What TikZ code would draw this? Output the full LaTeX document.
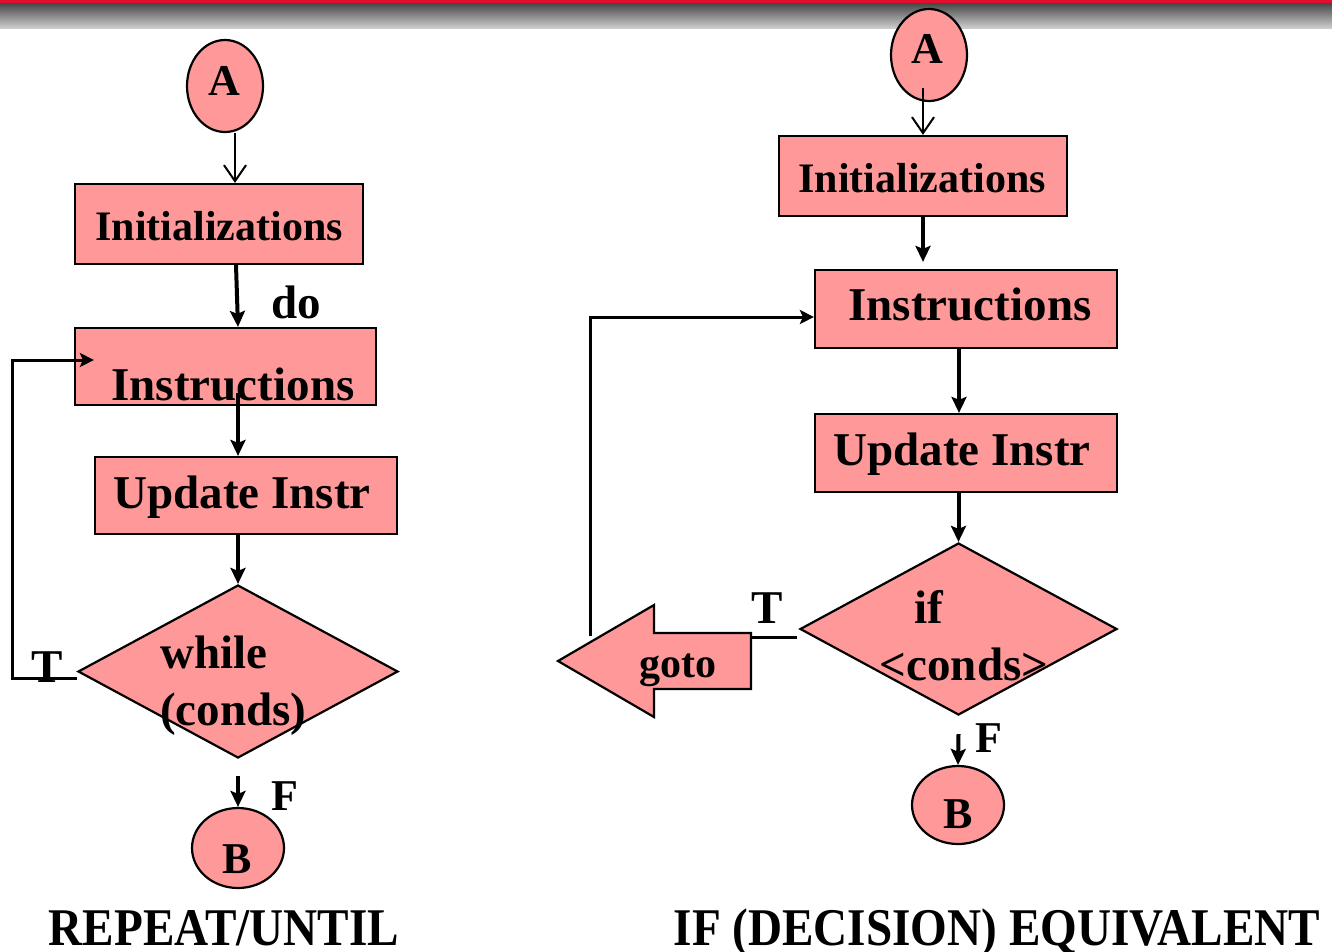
\documentclass[tikz,border=0pt]{standalone}
\usepackage{fontspec}
\setmainfont{Liberation Serif}
\usetikzlibrary{shapes.geometric,arrows.meta,calc}
\definecolor{boxpink}{RGB}{255,153,153}
\definecolor{barred}{RGB}{225,15,45}
\definecolor{bardark}{RGB}{70,70,70}
\definecolor{barlight}{RGB}{205,205,205}
\newcommand\fsz[1]{\fontsize{#1}{#1}\selectfont\bfseries}
\tikzset{
  shapeline/.style={draw=black, line width=2.2pt, fill=boxpink},
  procbox/.style={shapeline, rectangle, inner sep=0pt},
  term/.style={shapeline, ellipse, inner sep=0pt},
  decision/.style={shapeline, diamond, inner sep=0pt},
  lbl/.style={inner sep=0pt, anchor=base},
  thinarr/.style={line width=2pt, -{Straight Barb[length=16pt,width=22pt]}},
  thickarr/.style={line width=4pt, -{Stealth[length=16pt,width=15pt,inset=3pt]}},
  looparr/.style={line width=3pt, -{Stealth[length=14pt,width=14pt,inset=3pt]}},
  plainline/.style={line width=3pt},
}
\begin{document}
\begin{tikzpicture}[x=1pt,y=-1pt]
\useasboundingbox (0,0) rectangle (1332,951);
\fill[white] (0,0) rectangle (1332,951);

% header band
\shade[top color=bardark, bottom color=barlight] (0,3) rectangle (1332,28);
\fill[barred] (0,0) rectangle (1332,3);

% ---------------- REPEAT / UNTIL ----------------
\node[term, minimum width=76pt, minimum height=92pt] (aL) at (225,86) {};
\node[lbl, font=\fsz{44}] (aLt) at (224,95) {A};

\node[procbox, minimum width=288pt, minimum height=80pt] (initL) at (219,224) {};
\node[lbl, font=\fsz{42}] (initLt) at (219,240) {Initializations};

\node[procbox, minimum width=301pt, minimum height=77pt] (insL) at (225.5,366.5) {};
\node[lbl, font=\fsz{47}] (insLt) at (233,400) {Instructions};

\node[procbox, minimum width=302pt, minimum height=77pt] (updL) at (246,495.5) {};
\node[lbl, font=\fsz{47}] (updLt) at (242,508) {Update Instr};

\node[decision, minimum width=320pt, minimum height=173pt] (dL) at (238,671.5) {};
\node[inner sep=0pt, anchor=base west, font=\fsz{47}] (dLt1) at (160,668) {while};
\node[inner sep=0pt, anchor=base west, font=\fsz{47}] (dLt2) at (160,725) {(conds)};

\node[term, minimum width=92pt, minimum height=80pt] (bL) at (238,848) {};
\node[lbl, font=\fsz{44}] (bLt) at (237,873) {B};

\node[lbl, font=\fsz{47}] (doL) at (296,318) {do};
\node[lbl, font=\fsz{47}] (tLt) at (47,682) {T};
\node[lbl, font=\fsz{44}] (fLt) at (285,810) {F};

% connectors
\coordinate (aLout) at ([xshift=10pt]aL.south);
\coordinate (insLout) at ([shift={(12.5,26.5)}]insL.center);
\draw[thinarr] (aLout) -- (aLout |- initL.north);
\draw[thickarr] ([xshift=17pt]initL.south) -- ([xshift=12.5pt]insL.north);
\draw[thickarr] (insLout) -- (insLout |- updL.north);
\draw[thickarr] (dL.north |- updL.south) -- (dL.north);
\draw[thickarr] ([yshift=-17pt]dL.south) -- (bL.north);

\coordinate (tL) at ([shift={(0,7)}]dL.west);
\draw[looparr] (tL) -- ++(-64,0) |- ([shift={(20,-6.5)}]insL.west);

\node[inner sep=0pt, anchor=base, font=\fsz{53}] (titleL) at (224,945) {\scalebox{0.89}[1]{REPEAT/UNTIL}};

% ---------------- IF (DECISION) EQUIVALENT ----------------
\node[term, minimum width=76pt, minimum height=92pt] (aR) at (929,55) {};
\node[lbl, font=\fsz{44}] (aRt) at (927,63) {A};

\node[procbox, minimum width=288pt, minimum height=80pt] (initR) at (923,176) {};
\node[lbl, font=\fsz{42}] (initRt) at (922,192) {Initializations};

\node[procbox, minimum width=302pt, minimum height=78pt] (insR) at (966,309) {};
\node[lbl, font=\fsz{47}] (insRt) at (970,320) {Instructions};

\node[procbox, minimum width=302pt, minimum height=78pt] (updR) at (966,453) {};
\node[lbl, font=\fsz{47}] (updRt) at (962,465) {Update Instr};

\node[decision, minimum width=317pt, minimum height=172pt] (dR) at (958.5,629) {};
\node[lbl, font=\fsz{47}] (dRt1) at (929,623) {if};
\node[lbl, font=\fsz{47}] (dRt2) at (964,680) {<conds>};

\node[term, minimum width=92pt, minimum height=78pt] (bR) at (958,805) {};
\node[lbl, font=\fsz{44}] (bRt) at (958,828) {B};

% goto block arrow
\draw[shapeline] (558,661) -- (654,605) -- (654,633) -- (751,633) -- (751,689)
  -- (654,689) -- (654,717) -- cycle;
\coordinate (gotoEnd) at (751,637);
\coordinate (gotoTop) at (590,636);
\node[lbl, font=\fsz{42}] (gotoT) at (678,677) {goto};

\node[lbl, font=\fsz{47}] (tRt) at (767,623) {T};
\node[lbl, font=\fsz{44}] (fRt) at (989,752) {F};

% connectors
\coordinate (aRout) at ([shift={(-6,33)}]aR.center);
\coordinate (initRout) at (initR.south);
\coordinate (insRout) at ([xshift=-7pt]insR.south);
\draw[thinarr] (aRout) -- (aRout |- initR.north);
\draw[thickarr] (initRout) -- ([yshift=7pt]initRout |- insR.north);
\draw[thickarr] (insRout) -- (insRout |- updR.north);
\draw[thickarr] (dR.north |- updR.south) -- (dR.north);
\draw[thickarr] ([yshift=-18pt]dR.south) -- (bR.north);

\coordinate (tR) at ([shift={(-2,8)}]dR.west);
\draw[plainline] (tR) -- (gotoEnd);
\draw[looparr] (gotoTop) |- ([yshift=-8pt]insR.west);

\node[inner sep=0pt, anchor=base, font=\fsz{53}] (titleR) at (997,945) {\scalebox{0.89}[1]{IF (DECISION) EQUIVALENT}};
\end{tikzpicture}
\end{document}
